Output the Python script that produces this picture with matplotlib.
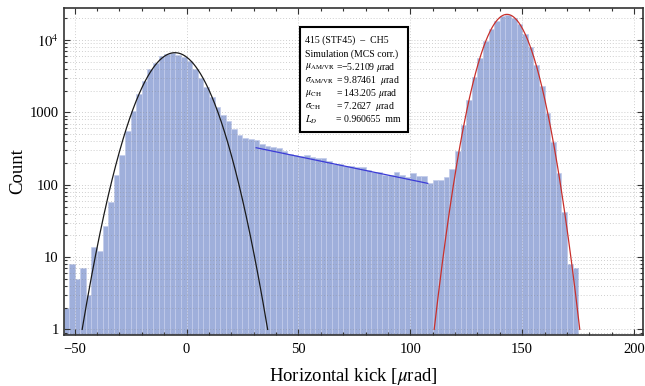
import numpy as np
import matplotlib
matplotlib.use("Agg")
import matplotlib.pyplot as plt
from matplotlib.patches import Rectangle
from matplotlib.ticker import MultipleLocator, LogLocator, NullFormatter

# histogram: bins of 2.5 urad starting at -55
BIN_START = -55.0
BIN_WIDTH = 2.5
counts = [
    2, 8, 5, 7, 3, 14, 12, 27, 58, 136,
    257, 553, 1057, 1796, 2718, 3946, 4780, 6000, 6500, 6650,
    6300, 5800, 5200, 4000, 2965, 2270, 1618, 1177, 920, 767,
    583, 486, 438, 425, 410, 366, 340, 330, 319, 295,
    263, 257, 252, 257, 240, 232, 232, 215, 191, 191,
    181, 181, 177, 174, 160, 151, 148, 136, 136, 151,
    136, 129, 144, 132, 132, 105, 116, 116, 127, 163,
    297, 665, 1480, 3050, 5700, 9800, 14200, 18600, 21500, 22300,
    20500, 16500, 12000, 8100, 4530, 2318, 972, 393, 144, 42,
    8, 7,
]

# fit parameters (legend box) and amplitudes
mu_amvr, sigma_amvr, amp_amvr = -5.2109, 9.87461, 6700
mu_ch, sigma_ch, amp_ch = 143.205, 7.2627, 22700
dech_range = (31.1, 107.8)
dech_amp, dech_len = 515.0, 67.6

box_title = ["415 (STF45)  \u2013  CH5", "Simulation (MCS corr.)"]
box_labels = [r"$\mu_{\mathrm{AM/VR}}$", r"$\sigma_{\mathrm{AM/VR}}$",
              r"$\mu_{\mathrm{CH}}$", r"$\sigma_{\mathrm{CH}}$", r"$L_{D}$"]
box_values = ["=\u22125.2109 $\\mu$rad", "= 9.87461  $\\mu$rad",
              "= 143.205 $\\mu$rad", "= 7.2627  $\\mu$rad", "= 0.960655  mm"]

plt.rcParams["font.family"] = ["Liberation Serif", "DejaVu Serif"]
plt.rcParams["mathtext.fontset"] = "stix"

W, H = 645, 386
fig = plt.figure(figsize=(W / 100, H / 100), dpi=100)
ax = fig.add_axes([63.5 / W, 1 - 334.5 / H, (643 - 63.5) / W, (334.5 - 8) / H])

lefts = BIN_START + BIN_WIDTH * np.arange(len(counts))
ax.bar(lefts, counts, width=BIN_WIDTH, align="edge", color="#9fafdb",
       edgecolor="#c3cceb", linewidth=0.5, zorder=1)


def gauss(x, amp, mu, sigma):
    return amp * np.exp(-(x - mu) ** 2 / (2 * sigma ** 2))


half = sigma_amvr * np.sqrt(2 * np.log(amp_amvr))
xa = np.linspace(mu_amvr - half, mu_amvr + half, 400)
ax.plot(xa, gauss(xa, amp_amvr, mu_amvr, sigma_amvr), color="#1a1a1a", lw=0.9, zorder=3)

half = sigma_ch * np.sqrt(2 * np.log(amp_ch))
xc = np.linspace(mu_ch - half, mu_ch + half, 400)
ax.plot(xc, gauss(xc, amp_ch, mu_ch, sigma_ch), color="#c8302c", lw=0.9, zorder=3)

xd = np.linspace(dech_range[0], dech_range[1], 100)
ax.plot(xd, dech_amp * np.exp(-xd / dech_len), color="#3b3bd6", lw=0.9, zorder=3)

ax.set_yscale("log")
ax.set_xlim(-55, 204)
ax.set_ylim(0.85, 27800)

ax.set_xticks([-50, 0, 50, 100, 150, 200])
ax.set_xticklabels(["\u221250", "0", "50", "100", "150", "200"])
ax.xaxis.set_minor_locator(MultipleLocator(10))
ax.set_yticks([1, 10, 100, 1000, 1e4])
ax.set_yticklabels(["1", "10", "100", "1000", r"$10^{4}$"])
ax.yaxis.set_minor_locator(LogLocator(base=10, subs=range(2, 10)))
ax.yaxis.set_minor_formatter(NullFormatter())

ax.tick_params(which="both", direction="in", top=True, right=True,
               color="#333333", labelsize=10.5, width=0.8)
ax.tick_params(which="major", length=4)
ax.tick_params(axis="x", pad=6)
ax.tick_params(which="minor", length=2)
for spine in ax.spines.values():
    spine.set_linewidth(1.2)
    spine.set_color("#333333")

ax.set_axisbelow(False)
ax.grid(True, which="both", axis="y", ls=(0, (1, 2.5)), color="#8a8a8a", lw=0.6, alpha=0.55)
ax.grid(True, which="major", axis="x", ls=(0, (1, 2.5)), color="#8a8a8a", lw=0.6, alpha=0.55)

ax.set_xlabel("Horizontal kick [$\\mu$rad]", fontsize=13.5, labelpad=7)
ax.set_ylabel("Count", fontsize=13.5, labelpad=2)

# info box
fig.patches.append(Rectangle((300 / W, 1 - 132 / H), 108 / W, 105 / H,
                             transform=fig.transFigure, facecolor="white",
                             edgecolor="black", linewidth=1.5, zorder=5))
line_y = [1 - (40.5 + 13.25 * i) / H for i in range(len(box_title) + len(box_labels))]
for i, title in enumerate(box_title):
    fig.text(305 / W, line_y[i], title, fontsize=7, va="center", ha="left", zorder=6)

label_texts = []
for i, label in enumerate(box_labels):
    label_texts.append(fig.text(305 / W, line_y[i + 2], label, fontsize=7,
                                va="center", ha="left", zorder=6))
fig.canvas.draw()
renderer = fig.canvas.get_renderer()
value_x = max(t.get_window_extent(renderer).x1 for t in label_texts) + 1.5
for i, value in enumerate(box_values):
    fig.text(value_x / W, line_y[i + 2], value, fontsize=7, va="center", ha="left", zorder=6)

fig.savefig("out.png", dpi=100)
